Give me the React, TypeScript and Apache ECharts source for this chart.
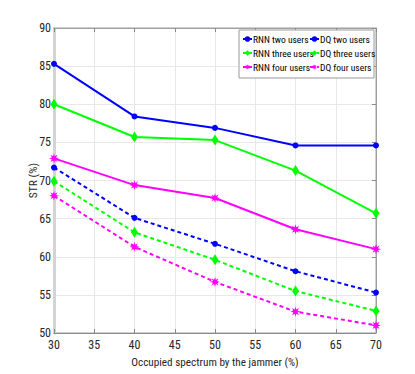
import React, { useEffect, useRef } from "react";
import * as echarts from "echarts";

const xValues = [30, 40, 50, 60, 70];
const rnnTwo = [85.3, 78.4, 76.9, 74.6, 74.6];
const rnnThree = [80.0, 75.7, 75.3, 71.3, 65.7];
const rnnFour = [72.9, 69.4, 67.7, 63.6, 61.0];
const dqTwo = [71.7, 65.1, 61.7, 58.1, 55.3];
const dqThree = [69.9, 63.2, 59.6, 55.5, 52.9];
const dqFour = [68.0, 61.3, 56.7, 52.8, 51.0];
const seriesNames = [
  "RNN two users",
  "RNN three users",
  "RNN four users",
  "DQ two users",
  "DQ three users",
  "DQ four users",
];

const FONT = "'Roboto Condensed', 'Liberation Sans', sans-serif";

function starPath(): string {
  const pts: string[] = [];
  for (let i = 0; i < 16; i++) {
    const a = (i * Math.PI) / 8 - Math.PI / 2;
    const r = i % 2 === 0 ? 10 : 4.5;
    pts.push(`${(10 + r * Math.cos(a)).toFixed(2)} ${(10 + r * Math.sin(a)).toFixed(2)}`);
  }
  return "path://M" + pts.join(" L") + " Z";
}

export default function App() {
  const ref = useRef<HTMLDivElement>(null);
  useEffect(() => {
    if (!ref.current) return;
    document.body.style.margin = "0";
    const chart = echarts.init(ref.current, null, { renderer: "svg" });
    const star = starPath();
    const blue = "#0000ff";
    const green = "#00ff00";
    const magenta = "#ff00ff";
    const dataOf = (arr: number[]) => xValues.map((x, i) => [x, arr[i]]);
    const mk = (name: string, arr: number[], color: string, dashed: boolean, symbol: string, size: any) => ({
      name,
      type: "line",
      data: dataOf(arr),
      symbol,
      symbolSize: size,
      showAllSymbol: true,
      itemStyle: { color },
      lineStyle: { color, width: 2, type: dashed ? [4, 3] : "solid" },
      z: 3,
    });
    const legendText = { fontFamily: FONT, fontSize: 9.5, color: "#000", padding: [0, 0, 0, -4] };
    chart.setOption({
      animation: false,
      backgroundColor: "#ffffff",
      textStyle: { fontFamily: FONT },
      grid: {
        left: 54,
        right: 39,
        top: 28,
        bottom: 41,
        show: true,
        borderColor: "#a0a0a0",
        borderWidth: 1,
      },
      graphic: [
        {
          type: "rect",
          z: 3,
          shape: { x: 239, y: 30, width: 135, height: 48 },
          style: { fill: "#ffffff", stroke: "#999999", lineWidth: 1 },
        },
      ],
      legend: [
        {
          data: seriesNames.slice(0, 3),
          orient: "vertical",
          left: 242,
          top: 34,
          itemGap: 4,
          itemWidth: 9,
          itemHeight: 7,
          padding: 0,
          z: 5,
          textStyle: legendText,
        },
        {
          data: seriesNames.slice(3),
          orient: "vertical",
          left: 309,
          top: 34,
          itemGap: 4,
          itemWidth: 9,
          itemHeight: 7,
          padding: 0,
          z: 5,
          textStyle: legendText,
        },
      ],
      xAxis: [
        {
          type: "value",
          min: 30,
          max: 70,
          interval: 5,
          name: "Occupied spectrum by the jammer (%)",
          nameLocation: "middle",
          nameGap: 24,
          nameMoveOverlap: false,
          nameTextStyle: { fontFamily: FONT, fontSize: 11.2, color: "#262626" },
          axisLine: { show: true, lineStyle: { color: "#8a8a8a", width: 1 } },
          axisTick: { show: true, inside: true, length: 4, lineStyle: { color: "#8a8a8a" } },
          axisLabel: { fontFamily: FONT, fontSize: 12, color: "#262626", margin: 6 },
          splitLine: { show: true, lineStyle: { color: "#e8e8e8", width: 1 } },
        },
        {
          type: "value",
          position: "top",
          min: 30,
          max: 70,
          interval: 5,
          axisLine: { show: true, lineStyle: { color: "#a0a0a0", width: 1 } },
          axisTick: { show: true, inside: true, length: 4, lineStyle: { color: "#8a8a8a" } },
          axisLabel: { show: false },
          splitLine: { show: false },
        },
      ],
      yAxis: [
        {
          type: "value",
          min: 50,
          max: 90,
          interval: 5,
          name: "STR (%)",
          nameLocation: "middle",
          nameGap: 15,
          nameMoveOverlap: false,
          nameTextStyle: { fontFamily: FONT, fontSize: 11.5, color: "#262626" },
          axisLine: { show: true, lineStyle: { color: "#d4d4d4", width: 3 } },
          axisTick: { show: false },
          axisLabel: { fontFamily: FONT, fontSize: 12, color: "#262626", margin: 3 },
          splitLine: { show: true, lineStyle: { color: "#e8e8e8", width: 1 } },
        },
        {
          type: "value",
          position: "right",
          min: 50,
          max: 90,
          interval: 5,
          axisLine: { show: true, lineStyle: { color: "#a0a0a0", width: 1 } },
          axisTick: { show: true, inside: true, length: 4, lineStyle: { color: "#8a8a8a" } },
          axisLabel: { show: false },
          splitLine: { show: false },
        },
      ],
      series: [
        mk(seriesNames[0], rnnTwo, blue, false, "circle", 6),
        mk(seriesNames[1], rnnThree, green, false, "diamond", [7, 11]),
        mk(seriesNames[2], rnnFour, magenta, false, star, 10),
        mk(seriesNames[3], dqTwo, blue, true, "circle", 6),
        mk(seriesNames[4], dqThree, green, true, "diamond", [7, 11]),
        mk(seriesNames[5], dqFour, magenta, true, star, 10),
      ],
    });
    return () => chart.dispose();
  }, []);
  return <div ref={ref} style={{ width: 415, height: 374, position: "absolute", left: 0, top: 0 }} />;
}
